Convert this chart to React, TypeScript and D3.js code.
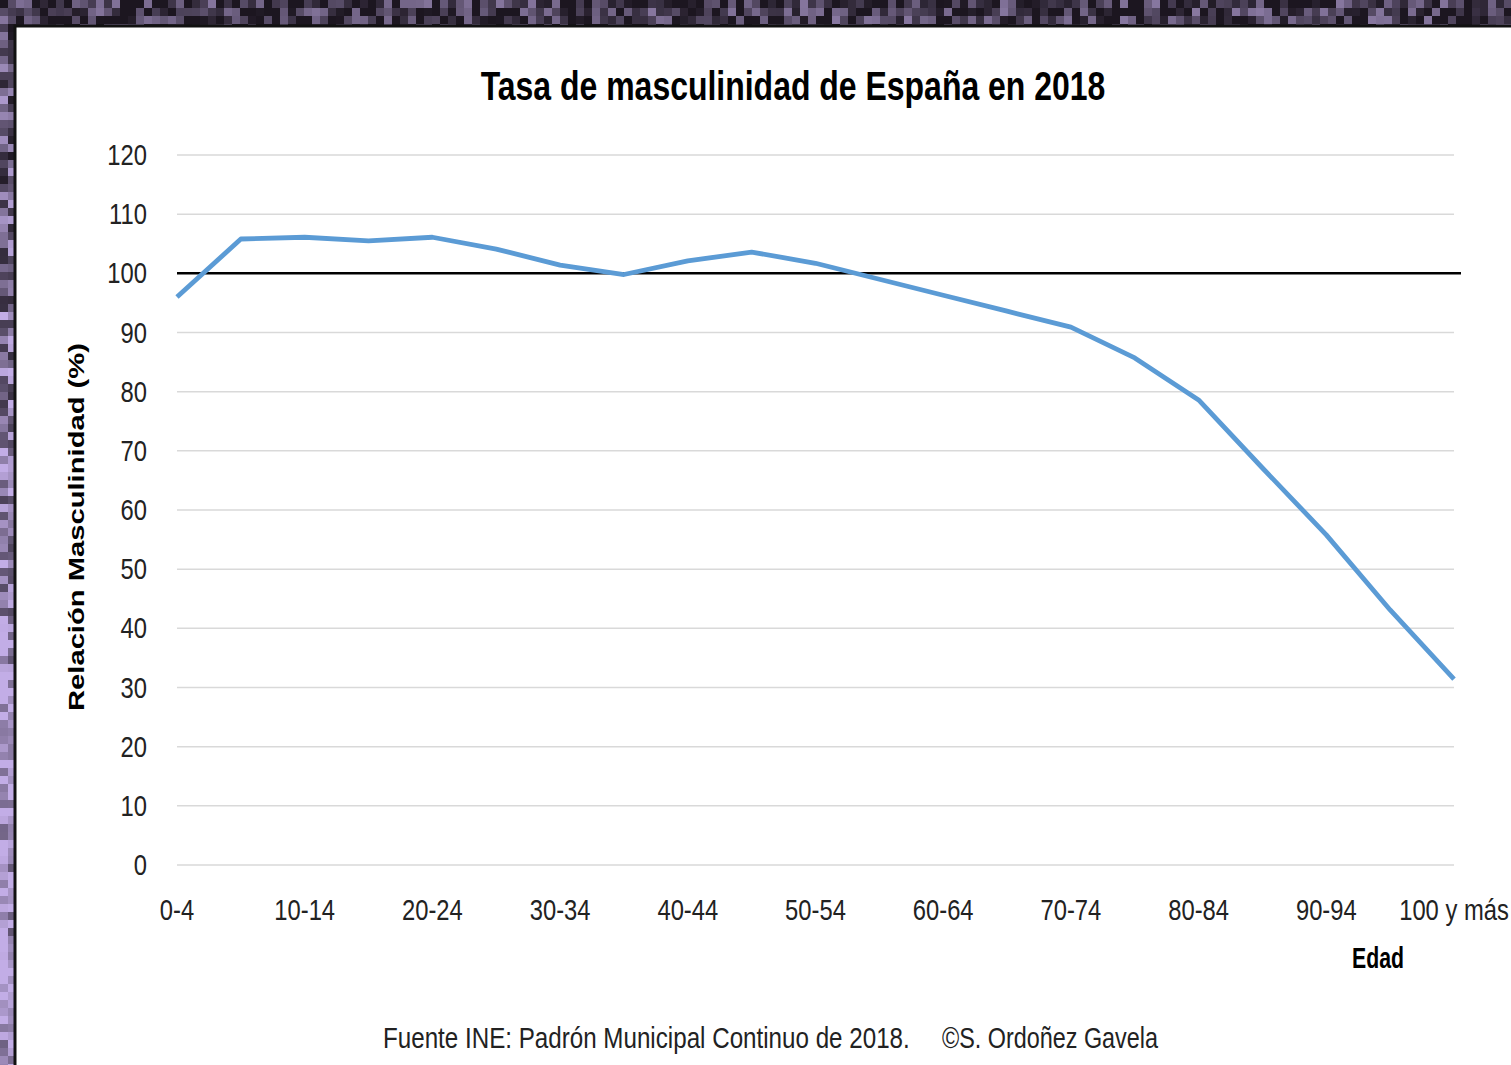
import React, { useRef, useEffect } from "react";
import * as d3 from "d3";

// age groups (x categories)
const ageGroups = [
  "0-4", "5-9", "10-14", "15-19", "20-24", "25-29", "30-34", "35-39",
  "40-44", "45-49", "50-54", "55-59", "60-64", "65-69", "70-74", "75-79",
  "80-84", "85-89", "90-94", "95-99", "100 y más",
];

// men per 100 women
const ratioValues = [
  96.0, 105.8, 106.1, 105.5, 106.1, 104.1, 101.4, 99.8,
  102.1, 103.6, 101.7, 99.0, 96.3, 93.6, 90.9, 85.7,
  78.6, 67.1, 55.8, 43.1, 31.4,
];

const yTicks = [0, 10, 20, 30, 40, 50, 60, 70, 80, 90, 100, 110, 120];
const xTickLabels = ["0-4", "10-14", "20-24", "30-34", "40-44", "50-54", "60-64", "70-74", "80-84", "90-94", "100 y más"];
const referenceLevel = 100;

const titleText = "Tasa de masculinidad de España en 2018";
const yTitle = "Relación Masculinidad (%)";
const xTitle = "Edad";
const sourceText = "Fuente INE: Padrón Municipal Continuo de 2018.";
const creditText = "©S. Ordoñez Gavela";

const App = () => {
  const ref = useRef<SVGSVGElement>(null);

  useEffect(() => {
    const svgWidth = 1511;
    const svgHeight = 1065;
    const plot = { left: 177, right: 1454, top: 155, bottom: 865 };
    const sans = "'Liberation Sans', Arial, sans-serif";
    const squeeze = 0.82; // labels look like a narrow (Calibri) face
    const lineColor = "#5b9bd5";
    const gridColor = "#d9d9d9";

    const svg = d3.select(ref.current)
      .attr("width", svgWidth)
      .attr("height", svgHeight);

    svg.selectAll("*").remove();

    // textured purple frame behind the white panel
    svg.append("rect").attr("width", svgWidth).attr("height", svgHeight).attr("fill", "#2b2233");
    const frame = svg.append("g");
    const cell = 8;
    for (let x = 0; x < svgWidth; x += cell) {
      for (let y = 0; y < svgHeight; y += cell) {
        if (x > 18 && y > 30) continue;
        const h = Math.abs(Math.sin(x * 12.9898 + y * 78.233) * 43758.5453) % 1;
        const base = y > 30 ? 0.35 + 0.5 * Math.min(1, y / 700) : 0.2;
        const t = Math.min(1, base + (h - 0.5) * 0.9);
        frame.append("rect")
          .attr("x", x).attr("y", y).attr("width", cell).attr("height", cell)
          .attr("fill", d3.interpolateRgb("#1c1620", "#c2ade6")(Math.max(0, t)));
      }
    }

    // white panel with dark edge
    svg.append("rect")
      .attr("x", 15).attr("y", 26).attr("width", svgWidth).attr("height", svgHeight)
      .attr("fill", "white").attr("stroke", "#111").attr("stroke-width", 3);

    // text squeezed horizontally; anchor: start | middle | end
    const addText = (parent, x, y, str, size, opts: any = {}) => {
      const t = parent.append("text")
        .attr("text-anchor", opts.anchor || "start")
        .style("font-family", sans)
        .style("font-size", size + "px")
        .style("font-weight", opts.bold ? "bold" : "normal")
        .style("fill", opts.fill || "#222")
        .text(str);
      let sx = opts.scale || squeeze;
      if (opts.width) {
        const w = (t.node() as SVGTextElement).getComputedTextLength();
        sx = opts.width / w;
      }
      t.attr("transform", `translate(${x},${y}) scale(${sx},1)`);
      return t;
    };

    const xScale = d3.scalePoint<string>()
      .domain(ageGroups)
      .range([plot.left, plot.right]);

    const yScale = d3.scaleLinear()
      .domain([0, 120])
      .range([plot.bottom, plot.top]);

    // gridlines
    svg.append("g")
      .selectAll("line")
      .data(yTicks)
      .enter()
      .append("line")
      .attr("x1", plot.left)
      .attr("x2", plot.right)
      .attr("y1", d => yScale(d))
      .attr("y2", d => yScale(d))
      .attr("stroke", gridColor)
      .attr("stroke-width", 1.5);

    // y tick labels
    const yLabels = svg.append("g");
    yTicks.forEach(d => addText(yLabels, 147, yScale(d) + 10, String(d), 29, { anchor: "end" }));

    // x tick labels
    const xLabels = svg.append("g");
    xTickLabels.forEach(d => addText(xLabels, xScale(d) as number, 920, d, 29, { anchor: "middle" }));

    // reference line at 100
    svg.append("line")
      .attr("x1", plot.left)
      .attr("x2", 1461)
      .attr("y1", yScale(referenceLevel))
      .attr("y2", yScale(referenceLevel))
      .attr("stroke", "#000")
      .attr("stroke-width", 2.5);

    // data line
    const line = d3.line<number>()
      .x((d, i) => xScale(ageGroups[i]) as number)
      .y(d => yScale(d));

    svg.append("path")
      .datum(ratioValues)
      .attr("d", line)
      .attr("fill", "none")
      .attr("stroke", lineColor)
      .attr("stroke-width", 4.8)
      .attr("stroke-linejoin", "round");

    // title
    addText(svg, 793, 100, titleText, 41, { anchor: "middle", bold: true, fill: "#000", width: 625 });

    // y axis title
    svg.append("text")
      .attr("transform", `translate(84, 527) rotate(-90)`)
      .attr("text-anchor", "middle")
      .attr("textLength", 368)
      .attr("lengthAdjust", "spacingAndGlyphs")
      .style("font-family", sans)
      .style("font-weight", "bold")
      .style("font-size", "22px")
      .style("fill", "#000")
      .text(yTitle);

    // x axis title
    addText(svg, 1378, 968, xTitle, 29, { anchor: "middle", bold: true, fill: "#000", width: 52 });

    // source footer
    addText(svg, 383, 1048, sourceText, 29, { width: 527 });
    addText(svg, 942, 1048, creditText, 29, { width: 216 });
  }, []);

  return (
    <div style={{ position: "absolute", left: 0, top: 0 }}>
      <svg ref={ref} style={{ display: "block" }}></svg>
    </div>
  );
};

export default App;
